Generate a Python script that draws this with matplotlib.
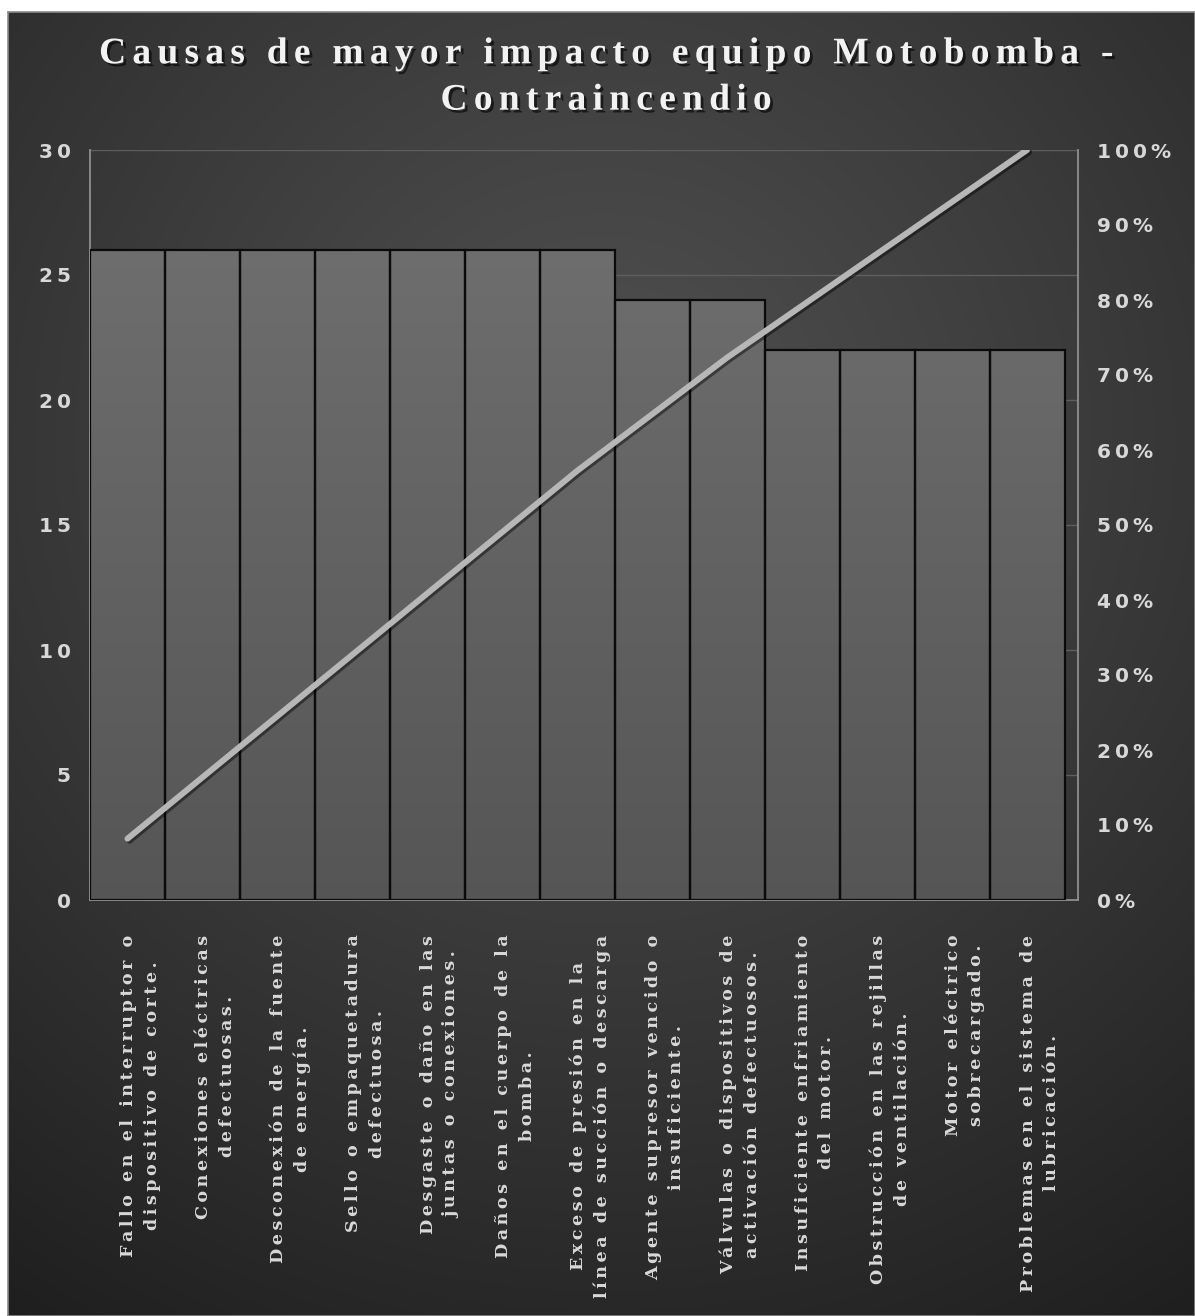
import numpy as np
import matplotlib
matplotlib.use("Agg")
import matplotlib.pyplot as plt
import matplotlib.patheffects as pe
from matplotlib.ticker import FixedLocator, FuncFormatter
from matplotlib.transforms import ScaledTranslation

# ---- data ----
causes = [
    "Fallo en el interruptor o\ndispositivo de corte.",
    "Conexiones eléctricas\ndefectuosas.",
    "Desconexión de la fuente\nde energía.",
    "Sello o empaquetadura\ndefectuosa.",
    "Desgaste o daño en las\njuntas o conexiones.",
    "Daños en el cuerpo de la\nbomba.",
    "Exceso de presión en la\nlínea de succión o descarga",
    "Agente supresor vencido o\ninsuficiente.",
    "Válvulas o dispositivos de\nactivación defectuosos.",
    "Insuficiente enfriamiento\ndel motor.",
    "Obstrucción en las rejillas\nde ventilación.",
    "Motor eléctrico\nsobrecargado.",
    "Problemas en el sistema de\nlubricación.",
]
frequency = [26, 26, 26, 26, 26, 26, 26, 24, 24, 22, 22, 22, 22]
left_ticks = [0, 5, 10, 15, 20, 25, 30]
right_ticks = [0, 0.1, 0.2, 0.3, 0.4, 0.5, 0.6, 0.7, 0.8, 0.9, 1.0]
title = "Causas de mayor impacto equipo Motobomba -\nContraincendio"

# cumulative share for the Pareto line
cumulative = np.cumsum(frequency) / np.sum(frequency)


def track(text, gap):
    """Widen letter spacing by inserting a narrow space between glyphs."""
    return "\n".join(gap.join(line) for line in text.split("\n"))


W, H = 1195, 1316
fig = plt.figure(figsize=(W / 100, H / 100), dpi=100)
fig.patch.set_facecolor("white")

# ---- dark radial-gradient backdrop ----
bg = fig.add_axes([8 / W, 0, 1 - 8 / W, 1 - 12 / H], zorder=-10)
yy, xx = np.mgrid[0:H, 0:W]
d = np.hypot(xx - 600, (yy - 430) * 1.0) / 1000.0
lum = (80 - 46 * np.clip(d, 0, 1.2) ** 1.1) / 255.0
bg.imshow(np.dstack([lum, lum, lum]), aspect="auto", extent=[0, 1, 0, 1],
          interpolation="bilinear")
bg.set_xlim(0, 1)
bg.set_ylim(0, 1)
bg.set_xticks([])
bg.set_yticks([])
for s in bg.spines.values():
    s.set_color("#8a8a8a")
    s.set_linewidth(1.2)

# ---- main axes ----
ax = fig.add_axes([90 / W, 1 - 900 / H, (1078 - 90) / W, 750 / H])
ax.set_facecolor("none")
x = np.arange(len(causes))
bars = ax.bar(x, frequency, width=1.0, facecolor="none",
              edgecolor="#0a0a0a", linewidth=1.6, zorder=3)

# vertical shading inside each bar (lighter at the top)
grad = np.linspace(0.43, 0.335, 256).reshape(-1, 1)
grad_rgb = np.dstack([grad, grad, grad])
for b in bars:
    im = ax.imshow(grad_rgb, aspect="auto", origin="upper",
                   extent=[-0.5, 13.5, 0, 26], interpolation="bilinear", zorder=2)
    im.set_clip_path(b)

ax.set_xlim(-0.5, 12.68)
ax.set_ylim(0, 30)
ax.yaxis.set_major_locator(FixedLocator(left_ticks))
ax.yaxis.set_major_formatter(FuncFormatter(lambda v, p: track(f"{v:.0f}", "\u2009")))
ax.grid(axis="y", color="#5e5e5e", linewidth=1.0)
ax.set_axisbelow(True)
ax.set_xticks(x)
ax.set_xticklabels([track(c, "\u2009") for c in causes], rotation=90,
                   multialignment="center", fontsize=12.6, fontweight="bold",
                   family=["DejaVu Serif"], color="#d9d9d9", linespacing=1.5)
ax.tick_params(axis="x", length=0, pad=25)
ax.tick_params(axis="y", length=0, pad=14, labelsize=14.5, labelcolor="#d8d8d8")
for lab in ax.get_yticklabels():
    lab.set_fontweight("bold")
    lab.set_family(["DejaVu Sans"])
shift = ScaledTranslation(13 / 100, 0, fig.dpi_scale_trans)
for lab in ax.get_xticklabels():
    lab.set_transform(lab.get_transform() + shift)

for side in ("top", "right"):
    ax.spines[side].set_visible(False)
for side in ("left", "bottom"):
    ax.spines[side].set_color("#8f8f8f")
    ax.spines[side].set_linewidth(1.3)

# ---- cumulative percentage axis ----
ax2 = ax.twinx()
ax2.set_ylim(0, 1)
ax2.yaxis.set_major_locator(FixedLocator(right_ticks))
ax2.yaxis.set_major_formatter(FuncFormatter(lambda v, p: track(f"{v * 100:.0f}%", "\u2009")))
ax2.tick_params(axis="y", length=0, pad=14, labelsize=14.5, labelcolor="#d8d8d8")
for lab in ax2.get_yticklabels():
    lab.set_fontweight("bold")
    lab.set_family(["DejaVu Sans"])
for side in ("top", "left", "bottom"):
    ax2.spines[side].set_visible(False)
ax2.spines["right"].set_color("#8f8f8f")
ax2.spines["right"].set_linewidth(1.3)

ax2.plot(x, cumulative, color="#b7b7b7", linewidth=4.3, solid_capstyle="round",
         zorder=5,
         path_effects=[pe.SimpleLineShadow(offset=(1.5, -1.5), shadow_color="black",
                                           alpha=0.45), pe.Normal()])

# ---- title ----
fig.text(606 / W, 1 - 77 / H, track(title, "\u2006"), ha="center", va="center",
         fontsize=27, fontweight="bold", color="#f2f2f2",
         family=["Liberation Serif", "DejaVu Serif"], linespacing=1.42,
         path_effects=[pe.withSimplePatchShadow(offset=(2, -2), shadow_rgbFace="black",
                                                alpha=0.6)])

fig.savefig("out.png", dpi=100)
